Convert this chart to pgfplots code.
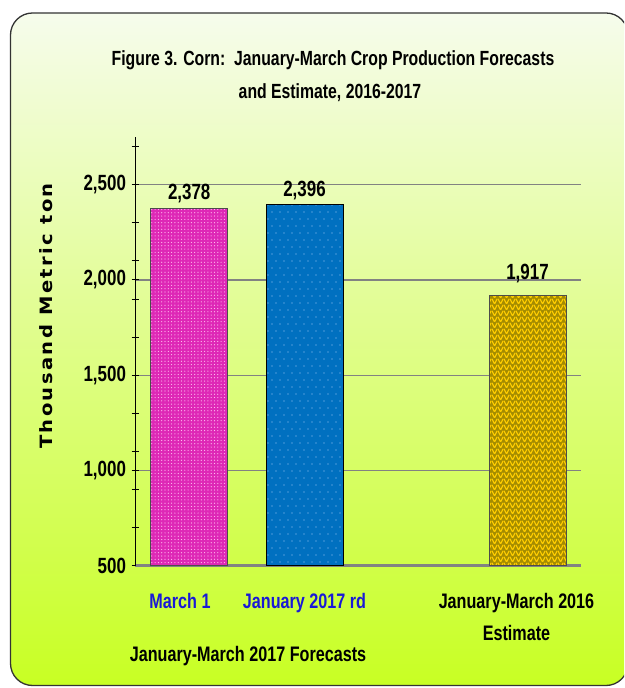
\documentclass[border=0pt]{standalone}
\usepackage{pgfplots}
\pgfplotsset{compat=1.18}
\usepackage{fontspec}
\setmainfont{Liberation Sans}
\newfontfamily\nb[FakeStretch=0.77]{Liberation Sans Bold}
\newfontfamily\ylab[LetterSpace=14,FakeStretch=1.15]{DejaVu Sans Bold}
\usetikzlibrary{patterns,patterns.meta}

\definecolor{bgtop}{RGB}{246,252,236}
\definecolor{bgmid}{RGB}{226,250,165}
\definecolor{bgbot}{RGB}{200,255,35}
\definecolor{barmag}{RGB}{222,40,182}
\definecolor{dotmag}{RGB}{255,190,240}
\definecolor{barblue}{RGB}{0,112,192}
\definecolor{dotblue}{RGB}{160,200,245}
\definecolor{bargold}{RGB}{165,140,0}
\definecolor{zzgold}{RGB}{255,205,0}
\definecolor{lblblue}{RGB}{25,25,215}
\definecolor{gridgray}{RGB}{130,130,130}

\tikzdeclarepattern{name=magdots, type=uncolored,
  bounding box={(-0.7pt,-0.7pt) and (0.7pt,0.7pt)},
  tile size={(3.3pt,3.3pt)},
  code={\fill (0,0) circle (0.6pt);}}
\tikzdeclarepattern{name=bluedots, type=uncolored,
  bounding box={(-0.6pt,-0.6pt) and (4.6pt,7.6pt)},
  tile size={(8pt,14pt)},
  code={\fill (0,0) circle (0.55pt); \fill (4pt,7pt) circle (0.55pt);}}
\tikzdeclarepattern{name=zigzag, type=uncolored,
  bounding box={(0pt,0pt) and (6pt,6pt)},
  tile size={(6pt,6pt)},
  code={\draw[line width=1.3pt, line cap=butt] (0pt,6pt)--(3pt,0pt)--(6pt,6pt);}}

\begin{document}
\begin{tikzpicture}[x=1pt,y=1pt]
% background frame
\begin{scope}
\clip (0,0) rectangle (624,688);
\shade[rounded corners=22pt, top color=bgtop, middle color=bgmid, bottom color=bgbot]
  (10.5,2.5) rectangle (628,675);
\draw[rounded corners=22pt, line width=1.3pt, black!80] (10.5,2.5) rectangle (628,675);
\end{scope}

% titles
\node[font=\nb\fontsize{20.5}{24}\selectfont] at (333,628) {Figure 3. Corn:\ \ January-March Crop Production Forecasts};
\node[font=\nb\fontsize{20.5}{24}\selectfont] at (330,595) {and Estimate, 2016-2017};
\node[font=\ylab\fontsize{17}{20}\selectfont, rotate=90] at (46,372) {Thousand Metric ton};
\node[font=\nb\fontsize{21}{24}\selectfont] at (248,32) {January-March 2017 Forecasts};

\begin{axis}[
  at={(135pt,122.3pt)}, anchor=south west,
  scale only axis, width=446pt, height=428.7pt,
  xmin=0, xmax=446, ymin=500, ymax=2750,
  axis y line=left, axis x line=bottom,
  y axis line style={-, black, line width=0.8pt},
  x axis line style={-, draw=gridgray, line width=2.4pt},
  xtick={45,169.5,381.5},
  xticklabels={\textcolor{lblblue}{March 1},\textcolor{lblblue}{January 2017 rd},{January-March 2016\\Estimate}},
  x tick style={draw=none},
  xticklabel style={font=\nb\fontsize{21}{32}\selectfont, align=center, anchor=north, yshift=-21pt},
  ytick={500,1000,1500,2000,2500},
  yticklabels={500,{1,000},{1,500},{2,000},{2,500}},
  yticklabel style={font=\nb\fontsize{22}{24}\selectfont, xshift=-2pt},
  y tick style={black, line width=0.8pt},
  tick align=center, major tick length=7pt,
  extra y ticks={700,900,1100,1300,1700,1900,2100,2300,2700},
  extra y tick labels={},
  extra y tick style={grid=none, tick align=center, major tick length=7pt},
  ymajorgrids, grid style={gridgray, line width=1.3pt},
  /pgf/number format/1000 sep={,},
  /pgf/number format/assume math mode=true,
  nodes near coords,
  every node near coord/.append style={font=\nb\fontsize{22}{24}\selectfont, black, anchor=south, yshift=1pt},
]
\addplot[ybar, bar width=77, bar shift=0pt, fill=barmag, draw=black!70, line width=0.6pt,
  postaction={pattern=magdots, pattern color=dotmag}] coordinates {(54.2,2378)};
\addplot[ybar, bar width=77, bar shift=0pt, fill=barblue, draw=black, line width=0.6pt,
  postaction={pattern=bluedots, pattern color=dotblue}] coordinates {(169.5,2396)};
\addplot[ybar, bar width=77, bar shift=0pt, fill=bargold, draw=black!70, line width=0.6pt,
  postaction={pattern=zigzag, pattern color=zzgold},
  every node near coord/.append style={yshift=8pt}] coordinates {(392.5,1917)};
\end{axis}
\pgfresetboundingbox
\path[use as bounding box] (0,0) rectangle (624,688);
\end{tikzpicture}
\end{document}
